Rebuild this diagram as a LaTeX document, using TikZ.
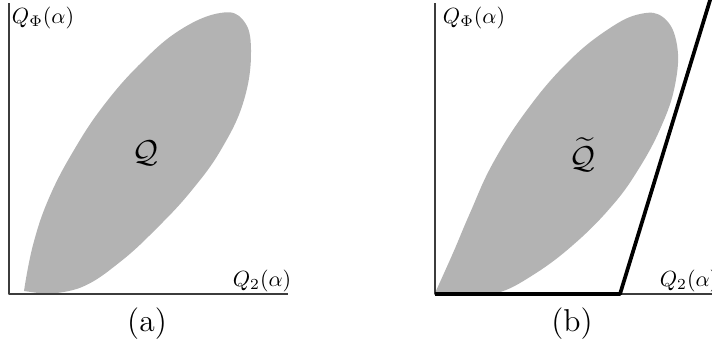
\documentclass[tikz,border=0pt]{standalone}
\usepackage{amsmath,amssymb}
\usetikzlibrary{positioning}
\definecolor{regiongray}{RGB}{179,179,179}
\definecolor{axisgray}{RGB}{60,60,60}

\begin{document}
\begin{tikzpicture}[x=0.016cm,y=-0.016cm,line join=round,
 axisline/.style={axisgray,line width=0.6pt},
 boundline/.style={black,line width=1.7pt},
 axislabel/.style={inner sep=0pt},
 regionlabel/.style={inner sep=0pt,font=\Large},
 panellabel/.style={inner sep=0pt,font=\Large}]
 \useasboundingbox (0,0) rectangle (712,341);
 % Panel (a): the region Q.
 \coordinate (ya) at (9,3);
 \coordinate (oa) at (9,294);
 \coordinate (xa) at (288,294);
 \fill[regiongray] plot[smooth,tension=0.7] coordinates {
  (24,291) (33,245) (49,198) (74,150) (104,105) (141,63) (180,30)
  (220,13) (243,20) (251,50) (244,100) (222,148) (192,190) (157,228)
  (120,262) (82,287) (45,294)}
  -- cycle;
 \draw[axisline] (ya) -- (oa) -- (xa);
 \node[axislabel] (phia) at (43,18) {$Q_\Phi(\alpha)$};
 \node[axislabel] (twoa) at (262,281) {$Q_2(\alpha)$};
 \node[regionlabel] (regiona) at (145,153) {$\mathcal{Q}$};
 \node[panellabel] (capa) at (147,324) {(a)};
 % Panel (b): the region with its bound.
 \coordinate (yb) at (435,3);
 \coordinate (ob) at (435,294);
 \coordinate (xb) at (716,294);
 \coordinate (kink) at (620,294);
 \coordinate (topb) at (711,-3);
 \fill[regiongray] plot[smooth,tension=0.7] coordinates {
  (435,293) (453,253) (470,213) (493,163) (527,110) (567,63) (607,30)
  (640,14) (664,18) (677,45) (675,85) (661,127) (638,170) (611,207)
  (573,245) (533,275) (497,293) (465,294)}
  -- cycle;
 \draw[axisline] (yb) -- (ob) -- (xb);
 \draw[boundline] (ob) -- (kink) -- (topb);
 \node[axislabel] (phib) at (474,18) {$Q_\Phi(\alpha)$};
 \node[axislabel] (twob) at (689,281) {$Q_2(\alpha)$};
 \node[regionlabel] (regionb) at (582,155) {$\widetilde{\mathcal{Q}}$};
 \node[panellabel] (capb) at (572,324) {(b)};
\end{tikzpicture}
\end{document}
